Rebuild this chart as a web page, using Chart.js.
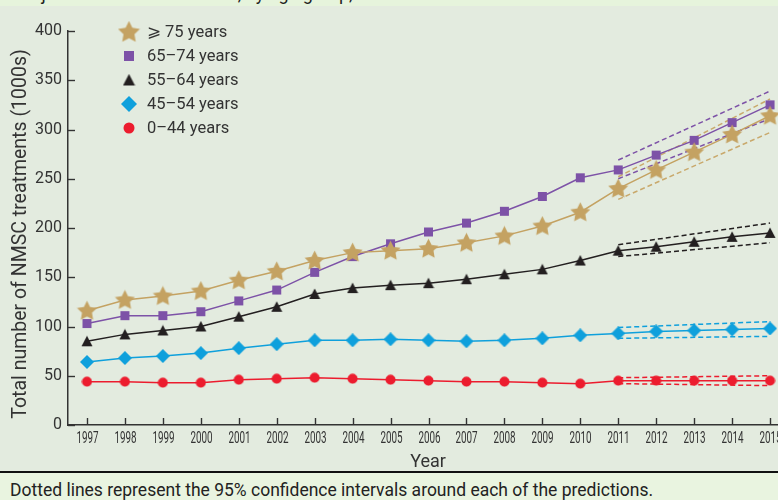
<!DOCTYPE html>
<html>
<head>
<meta charset="utf-8">
<script src="https://cdn.jsdelivr.net/npm/chart.js@4.4.1/dist/chart.umd.min.js"></script>
<style>
  html, body { margin: 0; padding: 0; width: 778px; height: 500px; overflow: hidden; background: #e3ebdf; }
  #strip { position: absolute; left: 0; top: 0; width: 778px; height: 6px; background: #e6f4dc; overflow: hidden; }
  #strip span { position: absolute; left: 14px; top: -17px; font: 18px Roboto, sans-serif; color: #222; white-space: nowrap; }
  #wrap { position: absolute; left: 0; top: 0; width: 800px; height: 474px; }
  #foot { position: absolute; left: 0; top: 471px; width: 778px; height: 29px; background: #e9f4e0; border-top: 2px solid #111; }
  #foot span { position: absolute; left: 10px; top: 7px; font: 17.5px Roboto, sans-serif; color: #222; white-space: nowrap; }
</style>
</head>
<body>
<div id="wrap"><canvas id="chart" width="800" height="474"></canvas></div>
<div id="strip"><span>Projected NMSC treatments, by age group, 1997–2015</span></div>
<div id="foot"><span>Dotted lines represent the 95% confidence intervals around each of the predictions.</span></div>
<script>
var years = ['1997','1998','1999','2000','2001','2002','2003','2004','2005','2006','2007','2008','2009','2010','2011','2012','2013','2014','2015'];

var age75 = [116,127,131,136,147,156,167,175,177,179,185,192,202,216,240,259,277,295,314];
var age6574 = [103,111,111,115,126,137,155,171,184,196,205,217,232,251,259,274,289,307,325];
var age5564 = [85,92,96,100,110,120,133,139,142,144,148,153,158,167,177,181,186,191,195];
var age4554 = [64,68,70,73,78,82,86,86,87,86,85,86,88,91,93,95,96,97,98];
var age044 = [44,44,43,43,46,47,48,47,46,45,44,44,43,42,45,45,45,45,45];

// 95% CI around predictions (2011 and 2015 ends, straight dashed lines)
var ci75Up = [null,null,null,null,null,null,null,null,null,null,null,null,null,null,252,null,null,null,331];
var ci75Lo = [null,null,null,null,null,null,null,null,null,null,null,null,null,null,229,null,null,null,297];
var ci6574Up = [null,null,null,null,null,null,null,null,null,null,null,null,null,null,269,null,null,null,339];
var ci6574Lo = [null,null,null,null,null,null,null,null,null,null,null,null,null,null,250,null,null,null,311];
var ci5564Up = [null,null,null,null,null,null,null,null,null,null,null,null,null,null,183,null,null,null,205];
var ci5564Lo = [null,null,null,null,null,null,null,null,null,null,null,null,null,null,171,null,null,null,185];
var ci4554Up = [null,null,null,null,null,null,null,null,null,null,null,null,null,null,99,null,null,null,105];
var ci4554Lo = [null,null,null,null,null,null,null,null,null,null,null,null,null,null,88,null,null,null,90];
var ci044Up = [null,null,null,null,null,null,null,null,null,null,null,null,null,null,48,null,null,null,50];
var ci044Lo = [null,null,null,null,null,null,null,null,null,null,null,null,null,null,42,null,null,null,40];

var legendLabels = ['\u2A7E 75 years','65\u201374 years','55\u201364 years','45\u201354 years','0\u201344 years'];

var TAN = '#c4a262', PURPLE = '#7d52a7', BLACK = '#231f20', BLUE = '#0fa0dc', RED = '#ec1c2e';

function marker(kind, size, color) {
	var c = document.createElement('canvas');
	c.width = size; c.height = size;
	var g = c.getContext('2d');
	var m = size / 2;
	g.fillStyle = color;
	g.beginPath();
	if (kind == 'star') {
		for (var i = 0; i < 10; i++) {
			var r = (i % 2 == 0) ? m : m * 0.5;
			var a = -Math.PI / 2 + i * Math.PI / 5;
			var px = m + r * Math.cos(a), py = m + 0.5 + r * Math.sin(a);
			if (i == 0) g.moveTo(px, py); else g.lineTo(px, py);
		}
		g.closePath();
	} else if (kind == 'square') {
		g.rect(1, 1, size - 2, size - 2);
	} else if (kind == 'triangle') {
		g.moveTo(m, 0.5); g.lineTo(size - 0.5, size - 1); g.lineTo(0.5, size - 1); g.closePath();
	} else if (kind == 'diamond') {
		g.moveTo(m, 0); g.lineTo(size, m); g.lineTo(m, size); g.lineTo(0, m); g.closePath();
	} else {
		g.arc(m, m, m - 0.5, 0, Math.PI * 2);
	}
	g.fill();
	return c;
}

var mStar = marker('star', 21, TAN);
var mSquare = marker('square', 11, PURPLE);
var mTri = marker('triangle', 12, BLACK);
var mDia = marker('diamond', 14, BLUE);
var mDot = marker('circle', 11, RED);
var legendMarks = [marker('star', 23, TAN), marker('square', 12, PURPLE), marker('triangle', 13, BLACK), marker('diamond', 16, BLUE), marker('circle', 12, RED)];

function mainSet(label, data, color, img) {
	return { label: label, data: data, borderColor: color, backgroundColor: color, borderWidth: 1.5,
		pointStyle: img, pointRadius: 6, pointHoverRadius: 6, tension: 0 };
}
function ciSet(data, color) {
	return { label: '', data: data, borderColor: color, borderWidth: 1.5, borderDash: [5, 3],
		pointRadius: 0, spanGaps: true, fill: false, tension: 0 };
}

var extras = {
	id: 'extras',
	afterDraw: function(chart) {
		var ctx = chart.ctx;
		var xs = chart.scales.x, ys = chart.scales.y;
		ctx.save();
		ctx.strokeStyle = '#333';
		ctx.lineWidth = 1.4;
		// inward tick marks
		ys.ticks.forEach(function(t) {
			var y = Math.round(ys.getPixelForValue(t.value)) + 0.5;
			ctx.beginPath(); ctx.moveTo(xs.left, y); ctx.lineTo(xs.left + 7, y); ctx.stroke();
		});
		ctx.fillStyle = '#333';
		ctx.textAlign = 'center';
		ctx.textBaseline = 'middle';
		ctx.font = '17px Roboto, sans-serif';
		for (var i = 0; i < years.length; i++) {
			var x = Math.round(xs.getPixelForValue(i)) + 0.5;
			ctx.beginPath(); ctx.moveTo(x, ys.bottom); ctx.lineTo(x, ys.bottom - 7); ctx.stroke();
			// condensed year labels
			ctx.save();
			ctx.translate(x, 439);
			ctx.scale(0.58, 1);
			ctx.fillText(years[i], 0, 0);
			ctx.restore();
		}
		// legend
		ctx.textAlign = 'left';
		ctx.font = '16.5px Roboto, sans-serif';
		for (var k = 0; k < legendLabels.length; k++) {
			var ly = 32 + k * 24;
			var im = legendMarks[k];
			ctx.drawImage(im, 129 - im.width / 2, ly - im.height / 2);
			ctx.fillText(legendLabels[k], 147, ly + 1);
		}
		// axis titles
		ctx.textAlign = 'center';
		ctx.font = '18px Roboto, sans-serif';
		ctx.fillText('Year', 428, 462);
		ctx.translate(21, 234);
		ctx.rotate(-Math.PI / 2);
		ctx.font = '19.5px Roboto, sans-serif';
		ctx.fillText('Total number of NMSC treatments (1000s)', 0, 0);
		ctx.restore();
	}
};

var ctx = document.getElementById('chart').getContext('2d');
var chart = new Chart(ctx, {
	type: 'line',
	data: {
		labels: years,
		datasets: [
			mainSet('\u2A7E 75 years', age75, TAN, mStar),
			mainSet('65\u201374 years', age6574, PURPLE, mSquare),
			mainSet('55\u201364 years', age5564, BLACK, mTri),
			mainSet('45\u201354 years', age4554, BLUE, mDia),
			mainSet('0\u201344 years', age044, RED, mDot),
			ciSet(ci75Up, '#c9a96c'), ciSet(ci75Lo, '#c9a96c'),
			ciSet(ci6574Up, PURPLE), ciSet(ci6574Lo, PURPLE),
			ciSet(ci5564Up, BLACK), ciSet(ci5564Lo, BLACK),
			ciSet(ci4554Up, BLUE), ciSet(ci4554Lo, BLUE),
			ciSet(ci044Up, RED), ciSet(ci044Lo, RED)
		]
	},
	options: {
		responsive: false,
		animation: false,
		layout: { padding: { top: 31, right: 11, left: 0, bottom: 0 } },
		plugins: { legend: { display: false }, tooltip: { enabled: false } },
		scales: {
			x: {
				offset: true,
				grid: { display: false, drawTicks: false },
				border: { display: true, color: '#333', width: 1.5 },
				ticks: { display: false },
				afterFit: function(s) { s.height = 49; }
			},
			y: {
				min: 0, max: 400,
				grid: { display: false, drawTicks: false },
				border: { display: true, color: '#333', width: 1.5 },
				ticks: { stepSize: 50, color: '#333', padding: 6, font: { family: 'Roboto, sans-serif', size: 16 } },
				afterFit: function(s) { s.width = 68; }
			}
		}
	},
	plugins: [extras]
});
</script>
</body>
</html>
